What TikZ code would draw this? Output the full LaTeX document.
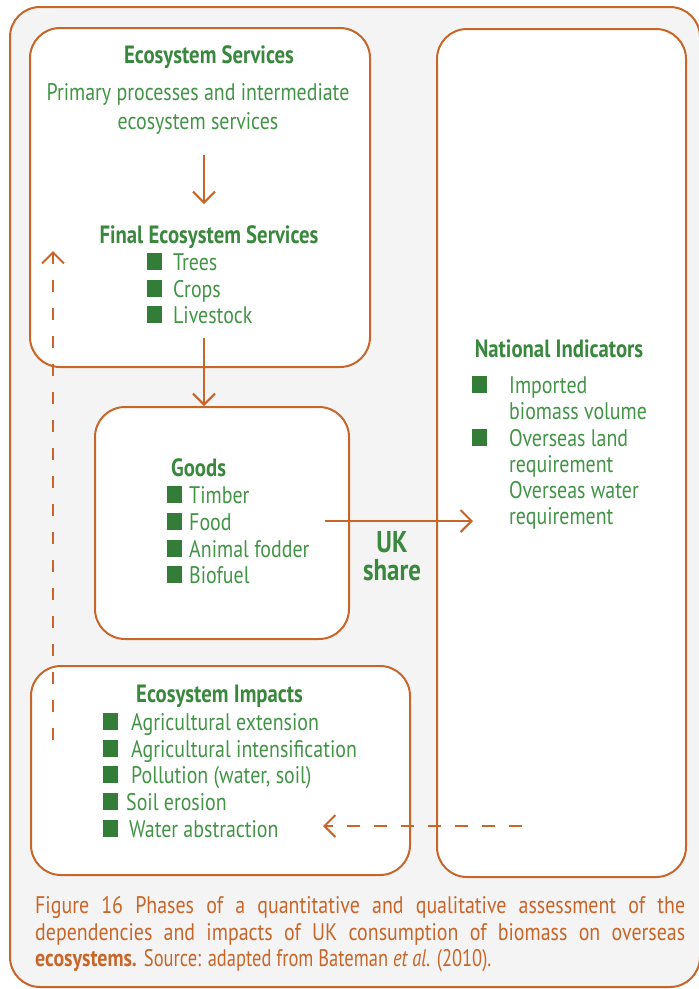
\documentclass[tikz,border=0pt]{standalone}
\usepackage{fontspec}
\setmainfont{PT Sans}[FakeStretch=0.83]
\newfontfamily\condfont{PT Sans}[FakeStretch=0.77]
\usetikzlibrary{arrows.meta}
\definecolor{org}{RGB}{200,102,42}
\definecolor{grn}{RGB}{58,135,62}
\definecolor{grnl}{RGB}{66,148,70}
\definecolor{sqc}{RGB}{52,125,56}
\definecolor{bgc}{RGB}{244,244,244}
\tikzset{
  box/.style={draw=org, line width=2pt, fill=white, rounded corners=30pt, anchor=north west, inner sep=0},
  ttl/.style={text=grn, font=\bfseries\fontsize{25}{28}\selectfont, inner sep=0, anchor=base},
  itm/.style={text=grnl, font=\fontsize{24}{28}\selectfont, inner sep=0, anchor=base west},
  bul/.style={fill=sqc, minimum width=15pt, minimum height=17pt, inner sep=0, anchor=south west},
  flow/.style={draw=org, line width=2pt, -{Straight Barb[length=11pt,width=22pt,line width=2pt]}},
  dflow/.style={flow, dash pattern=on 13pt off 14pt},
  capt/.style={text=org, font=\fontsize{24}{28}\selectfont, inner sep=0, anchor=base west}
}
\begin{document}
\begin{tikzpicture}[x=1pt,y=-1pt]
\useasboundingbox (0,0) rectangle (699,989);
% outer frame
\draw[draw=org, line width=2pt, fill=bgc, rounded corners=30pt] (10,7) rectangle (700,987);
% boxes
\node[box, minimum width=340, minimum height=339] (es) at (29,27) {};
\node[box, minimum width=249, minimum height=848] (ni) at (436,28) {};
\node[box, minimum width=254, minimum height=232] (gd) at (94,406) {};
\node[box, minimum width=379, minimum height=209] (ei) at (30,665) {};
% Ecosystem services
\node[ttl] (t1) at (209,63) {Ecosystem Services};
\node[itm, anchor=base] (p1) at (198,100) {Primary processes and intermediate};
\node[itm, anchor=base] (p2) at (198,129) {ecosystem services};
\node[ttl] (t2) at (209,243) {Final Ecosystem Services};
\node[bul] (b1) at (147,270) {}; \node[itm] (i1) at (173,270) {Trees};
\node[bul] (b2) at (147,297) {}; \node[itm] (i2) at (173,297) {Crops};
\node[bul] (b3) at (147,323) {}; \node[itm] (i3) at (173,323) {Livestock};
% National indicators
\node[ttl] (t3) at (559,357) {National Indicators};
\node[bul] (n1) at (472,393) {}; \node[itm] (m1) at (509,393) {Imported};
\node[itm] (m2) at (509,419) {biomass volume};
\node[bul] (n2) at (472,446) {}; \node[itm] (m3) at (509,446) {Overseas land};
\node[itm] (m4) at (509,472) {requirement};
\node[itm] (m5) at (509,498) {Overseas water};
\node[itm] (m6) at (509,524) {requirement};
% Goods
\node[ttl, anchor=base west] (t4) at (171,476) {Goods};
\node[bul] (g1) at (167,503) {}; \node[itm] (h1) at (189,503) {Timber};
\node[bul] (g2) at (167,530) {}; \node[itm] (h2) at (189,530) {Food};
\node[bul] (g3) at (167,557) {}; \node[itm] (h3) at (189,557) {Animal fodder};
\node[bul] (g4) at (167,583) {}; \node[itm] (h4) at (189,583) {Biofuel};
\node[ttl, font=\bfseries\fontsize{30}{32}\selectfont] (uk1) at (392,552) {UK};
\node[ttl, font=\bfseries\fontsize{30}{32}\selectfont] (uk2) at (392,580) {share};
% Impacts
\node[ttl, anchor=base west] (t5) at (136,702) {Ecosystem Impacts};
\node[bul] (e1) at (103,730) {}; \node[itm] (f1) at (131,730) {Agricultural extension};
\node[bul] (e2) at (103,757) {}; \node[itm] (f2) at (131,757) {Agricultural intensification};
\node[bul] (e3) at (103,783) {}; \node[itm] (f3) at (131,783) {Pollution (water, soil)};
\node[bul] (e4) at (103,810) {}; \node[itm] (f4) at (126,810) {Soil erosion};
\node[bul] (e5) at (103,837) {}; \node[itm] (f5) at (129,837) {Water abstraction};
% connectors
\coordinate (a1s) at (204,155); \coordinate (a1e) at (204,204);
\draw[flow] (a1s) -- (a1e);
\coordinate (a2s) at (204,338);
\draw[flow] (a2s) -- (gd.north -| a2s);
\coordinate (uks) at (325,521); \coordinate (uke) at (473,521);
\draw[flow] (uks) -- (uke);
\coordinate (ups) at (53,740); \coordinate (upe) at (53,251);
\draw[dflow, dash pattern=on 12pt off 16pt] (ups) -- (upe);
\coordinate (lfs) at (522,826); \coordinate (lfe) at (323,826);
\draw[dflow] (lfs) -- (lfe);
% caption
\node[capt] (c1) at (35,913) {\makebox[650pt][s]{Figure 16 Phases of a quantitative and qualitative assessment of the}};
\node[capt] (c2) at (35,940) {\makebox[650pt][s]{dependencies and impacts of UK consumption of biomass on overseas}};
\node[capt] (c3) at (35,966) {\textbf{ecosystems.} {\condfont Source: adapted from Bateman \textit{et al.} (2010).}};
\end{tikzpicture}
\end{document}
